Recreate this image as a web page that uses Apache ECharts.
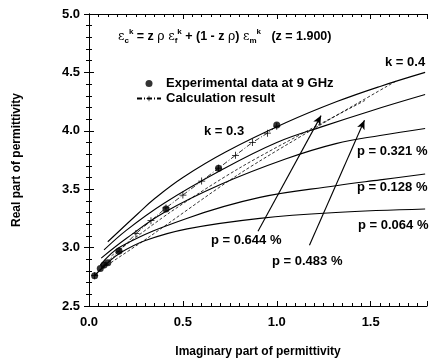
<!DOCTYPE html>
<html><head><meta charset="utf-8">
<script src="https://cdn.jsdelivr.net/npm/echarts@6/dist/echarts.min.js"></script>
<style>html,body{margin:0;padding:0;background:#fff}#c{width:430px;height:363px}</style>
</head><body><div id="c"></div>
<script>
// ---- data ----
var curveP0644 = [[0.10,3.05],[0.26,3.29],[0.35,3.42],[0.50,3.60],[0.73,3.82],[1.05,4.07],[1.32,4.25],[1.55,4.38],[1.79,4.50]];
var curveP0483 = [[0.08,2.98],[0.20,3.15],[0.40,3.38],[0.70,3.66],[1.00,3.90],[1.25,4.04],[1.50,4.17],[1.79,4.31]];
var curveP0321 = [[0.065,2.91],[0.20,3.08],[0.40,3.30],[0.70,3.54],[1.05,3.76],[1.315,3.89],[1.55,3.96],[1.79,4.02]];
var curveP0128 = [[0.06,2.85],[0.17,3.01],[0.52,3.25],[0.91,3.43],[1.315,3.53],[1.55,3.58],[1.79,3.63]];
var curveP0064 = [[0.03,2.76],[0.10,2.87],[0.162,2.95],[0.30,3.06],[0.523,3.16],[0.91,3.25],[1.315,3.30],[1.79,3.33]];
var dashedA = [[0.05,2.80],[0.31,3.08],[0.79,3.62],[1.21,4.03],[1.64,4.43]];
var dashedB = [[0.12,2.93],[0.43,3.30],[0.80,3.68],[1.21,4.04],[1.47,4.26]];
var expData = [[0.03,2.76],[0.06,2.82],[0.08,2.85],[0.10,2.87],[0.16,2.97],[0.41,3.33],[0.69,3.68],[1.00,4.05]];
var calcData = [[0.03,2.76],[0.08,2.85],[0.16,2.97],[0.25,3.12],[0.33,3.23],[0.41,3.34],[0.50,3.45],[0.60,3.57],[0.69,3.68],[0.78,3.79],[0.87,3.90],[0.95,3.98],[1.00,4.04]];
var arrow644 = [[0.90,3.14],[1.236,4.13]];
var arrow483 = [[1.174,3.02],[1.467,4.09]];
var xTicks = ['0.0','0.5','1.0','1.5'];
var yTicks = ['2.5','3.0','3.5','4.0','4.5','5.0'];

var F = 'Liberation Sans, Arial, sans-serif';
var chart = echarts.init(document.getElementById('c'));
function solid(name, d){return {name:name,type:'line',data:d,smooth:0.4,symbol:'none',silent:true,lineStyle:{color:'#000',width:1.1},z:3};}
function dashed(name, d){return {name:name,type:'line',data:d,smooth:0.3,symbol:'none',silent:true,lineStyle:{color:'#000',width:0.8,type:[3,2]},z:3};}
chart.setOption({
  animation:false,
  backgroundColor:'#fff',
  grid:{left:89,right:2,top:14,bottom:57},
  legend:{left:131,top:72,orient:'vertical',itemWidth:24,itemHeight:7,itemGap:2,
    textStyle:{fontFamily:F,fontWeight:'bold',fontSize:13,color:'#000'},
    data:[{name:'Experimental data at 9 GHz',icon:'circle'},{name:'Calculation result'}]},
  xAxis:[
    {type:'value',min:0,max:1.8,interval:0.5,position:'bottom',
     axisLine:{lineStyle:{color:'#000',width:1}},
     axisTick:{inside:true,length:5,lineStyle:{color:'#000'}},
     minorTick:{show:true,splitNumber:10,length:3,lineStyle:{color:'#000'}},
     splitLine:{show:false},
     axisLabel:{margin:10,fontFamily:F,fontWeight:'bold',fontSize:13,color:'#000',
       formatter:function(v){var s=v.toFixed(1);return xTicks.indexOf(s)>=0?s:'';}},
     name:'Imaginary part of permittivity',nameLocation:'middle',nameGap:40,
     nameTextStyle:{fontFamily:F,fontWeight:'bold',fontSize:12,color:'#000'}},
    {type:'value',min:0,max:1.8,interval:0.5,position:'top',
     axisLine:{lineStyle:{color:'#000',width:1}},
     axisTick:{inside:true,length:5,lineStyle:{color:'#000'}},
     minorTick:{show:true,splitNumber:10,length:3,lineStyle:{color:'#000'}},
     splitLine:{show:false},axisLabel:{show:false}}
  ],
  yAxis:[
    {type:'value',min:2.5,max:5,interval:0.5,position:'left',
     axisLine:{show:true,lineStyle:{color:'#000',width:1}},
     axisTick:{show:true,inside:true,length:5,lineStyle:{color:'#000'}},
     minorTick:{show:true,splitNumber:5,length:3,lineStyle:{color:'#000'}},
     splitLine:{show:false},
     axisLabel:{margin:9,fontFamily:F,fontWeight:'bold',fontSize:13,color:'#000',
       formatter:function(v){var s=v.toFixed(1);return yTicks.indexOf(s)>=0?s:'';}},
     name:'Real part of permittivity',nameLocation:'middle',nameGap:66,nameRotate:90,
     nameTextStyle:{fontFamily:F,fontWeight:'bold',fontSize:12,color:'#000'}},
    {type:'value',min:2.5,max:5,interval:0.5,position:'right',
     axisLine:{show:true,lineStyle:{color:'#000',width:1}},
     axisTick:{show:true,inside:true,length:5,lineStyle:{color:'#000'}},
     minorTick:{show:true,splitNumber:5,length:3,lineStyle:{color:'#000'}},
     splitLine:{show:false},axisLabel:{show:false}}
  ],
  series:[
    solid('p = 0.644 %',curveP0644),
    solid('p = 0.483 %',curveP0483),
    solid('p = 0.321 %',curveP0321),
    solid('p = 0.128 %',curveP0128),
    solid('p = 0.064 %',curveP0064),
    dashed('k = 0.4 (a)',dashedA),
    dashed('k = 0.4 (b)',dashedB),
    {name:'arrows',type:'line',data:[],silent:true,
     markLine:{silent:true,symbol:['none','arrow'],symbolSize:[6,9],label:{show:false},
       lineStyle:{color:'#000',width:1.1,type:'solid'},
       data:[[{coord:arrow644[0]},{coord:arrow644[1]}],[{coord:arrow483[0]},{coord:arrow483[1]}]]}},
    {name:'Calculation result',type:'line',data:calcData,symbol:'path://M4,0h1v4h4v1h-4v4h-1v-4h-4v-1h4z',symbolSize:7,
     itemStyle:{color:'#000'},lineStyle:{color:'#000',width:0.8,type:[5,2,1,2]},z:4},
    {name:'Experimental data at 9 GHz',type:'scatter',data:expData,symbol:'circle',symbolSize:7,
     itemStyle:{color:'#000'},z:5}
  ],
  graphic:[
    {type:'text',left:118,top:28,style:{rich:{
       b:{fontFamily:F,fontWeight:'bold',fontSize:12.5,fill:'#000'},
       e:{fontFamily:'DejaVu Serif, serif',fontSize:12.5,fill:'#000'},
       sup:{fontFamily:F,fontWeight:'bold',fontSize:8,fill:'#000',padding:[0,0,9,0]},
       sub:{fontFamily:F,fontWeight:'bold',fontSize:8,fill:'#000',padding:[9,0,0,0]}},
       text:'{e|ε}{sub|c}{sup|k}{b| = z }{e|ρ}{b| }{e|ε}{sub|f}{sup|k}{b| + (1 - z }{e|ρ}{b|) }{e|ε}{sub|m}{sup|k}{b|   (z = 1.900)}'}},
    {type:'text',left:385,top:56,style:{text:'k = 0.4',font:'bold 13px '+F,fill:'#000'}},
    {type:'text',left:204,top:125,style:{text:'k = 0.3',font:'bold 13px '+F,fill:'#000'}},
    {type:'text',left:357,top:145,style:{text:'p = 0.321 %',font:'bold 13px '+F,fill:'#000'}},
    {type:'text',left:357,top:181,style:{text:'p = 0.128 %',font:'bold 13px '+F,fill:'#000'}},
    {type:'text',left:358,top:219,style:{text:'p = 0.064 %',font:'bold 13px '+F,fill:'#000'}},
    {type:'text',left:211,top:234,style:{text:'p = 0.644 %',font:'bold 13px '+F,fill:'#000'}},
    {type:'text',left:272,top:255,style:{text:'p = 0.483 %',font:'bold 13px '+F,fill:'#000'}}
  ]
});
</script></body></html>
